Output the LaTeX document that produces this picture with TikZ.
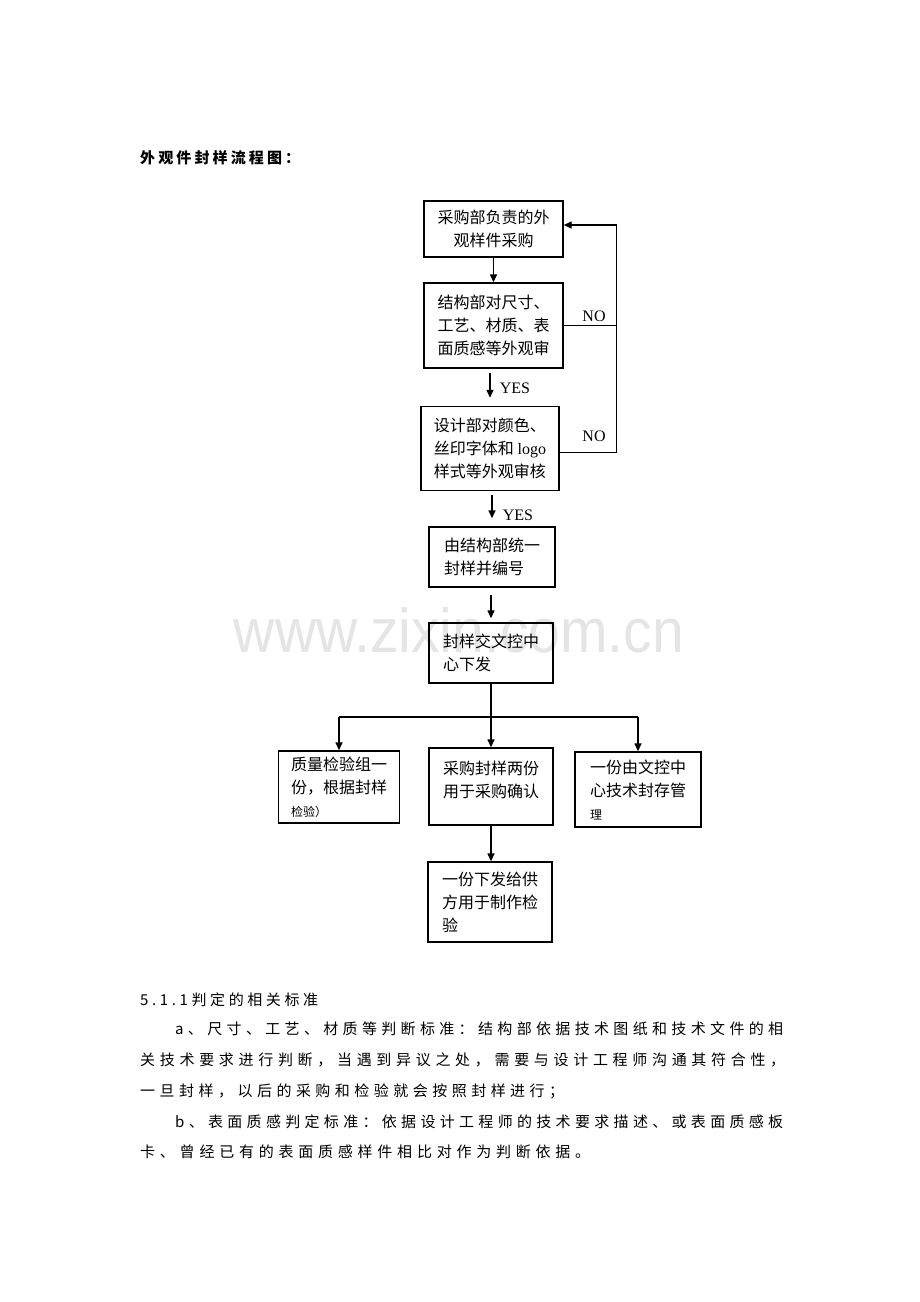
\documentclass[tikz,border=0pt]{standalone}
\usepackage{fontspec}
\usepackage{tikz}
\usetikzlibrary{arrows.meta}
\newfontfamily\cjk{Noto Sans CJK SC}
\newfontfamily\lat{Liberation Serif}
\newfontfamily\wmfont{Liberation Sans}
% spread the characters of one line over a given width
\let\endspread\relax
\def\spreadloop#1{\ifx#1\endspread\else#1\hfil\expandafter\spreadloop\fi}
\newcommand\spreadline[2]{\hbox to #1pt{\spreadloop#2\endspread\unskip}}

\begin{document}
\begin{tikzpicture}[x=1pt,y=-1pt,>={Triangle[length=8pt,width=7pt]}]
	\fill[white] (0,0) rectangle (920,1302);
	\useasboundingbox (0,0) rectangle (920,1302);
	\node[text=black!10, font=\wmfont\fontsize{62}{62}\selectfont, xscale=0.92] (W) at (459,630) {www.zixin.com.cn};
	\node[anchor=west, inner sep=0pt, font=\cjk\bfseries\fontsize{15}{18}\selectfont] (T) at (140,158) {\spreadline{160}{外观件封样流程图：}};
	\begin{scope}[every node/.style = {draw, line width=1.4pt, inner xsep=0pt, inner ysep=3pt,
			font=\cjk\fontsize{16}{23}\selectfont, align=left}]
		\node[minimum width=139pt, minimum height=56pt, align=center] (A) at (493.5,229) {采购部负责的外\\观样件采购};
		\node[minimum width=139pt, minimum height=85pt] (B) at (493.5,325.5) {结构部对尺寸、\\工艺、材质、表\\面质感等外观审};
		\node[minimum width=138pt, minimum height=84pt] (C) at (490,448.5) {设计部对颜色、\\丝印字体和 {\lat logo}\\样式等外观审核};
		\node[minimum width=126pt, minimum height=60pt] (D) at (492,557) {由结构部统一\\封样并编号};
		\node[minimum width=124pt, minimum height=60pt] (E) at (491,653) {封样交文控中\\心下发};
		\node[minimum width=121pt, minimum height=72pt] (F) at (339,787) {质量检验组一\\份，根据封样\\{\fontsize{12}{14}\selectfont 检验）}};
		\node[minimum width=124pt, minimum height=77pt] (G) at (491,786.5) {采购封样两份\\用于采购确认\\[-8pt]};
		\node[minimum width=126pt, minimum height=75pt] (H) at (638,789.5) {一份由文控中\\心技术封存管\\{\fontsize{12}{14}\selectfont 理}};
		\node[minimum width=124pt, minimum height=80pt] (I) at (490,902) {一份下发给供\\方用于制作检\\验};
	\end{scope}
	\coordinate (S) at (491,717);
	\begin{scope}[every node/.style={font=\lat\fontsize{16}{18}\selectfont, inner sep=0pt}]
		\node (N1) at (594,316) {NO};
		\node (N2) at (594,436) {NO};
		\node (Y1) at (515,388) {YES};
		\node (Y2) at (518,515) {YES};
	\end{scope}
	\begin{scope}[line width=1.4pt]
		\draw[->] (A) -- (B);
		\draw[->, shorten <=4pt, shorten >=8pt] (B.south -| C.north) -- (C.north);
		\draw[->, shorten <=4pt, shorten >=8pt] (C.south -| D.north) -- (D.north);
		\draw[->, shorten <=7pt, shorten >=4pt] (D.south -| E.north) -- (E.north);
		\draw[->] ([yshift=-4pt]C.east) -- ++(57,0) coordinate (R) |- ([yshift=4pt]A.east);
		\draw (B.east) -- (B.east -| R);
		\draw (E.south) -- (S);
		\draw (S -| F) -- (S -| H);
		\draw[->] (S -| F) -- (F.north);
		\draw[->] (S) -- (G.north);
		\draw[->] (S -| H) -- (H.north);
		\draw[->] (G.south) -- (G.south |- I.north);
	\end{scope}
	\begin{scope}[every node/.style={anchor=west, inner sep=0pt, font=\cjk\fontsize{15}{18}\selectfont}]
		\node (P0) at (140,1000) {\spreadline{178}{5.1.1判定的相关标准}};
		\node (P1) at (175,1029) {\spreadline{608}{a、尺寸、工艺、材质等判断标准：结构部依据技术图纸和技术文件的相}};
		\node (P2) at (140,1060) {\spreadline{645}{关技术要求进行判断，当遇到异议之处，需要与设计工程师沟通其符合性，}};
		\node (P3) at (140,1091) {\spreadline{424}{一旦封样，以后的采购和检验就会按照封样进行；}};
		\node (P4) at (175,1122) {\spreadline{608}{b、表面质感判定标准：依据设计工程师的技术要求描述、或表面质感板}};
		\node (P5) at (140,1152) {\spreadline{450}{卡、曾经已有的表面质感样件相比对作为判断依据。}};
	\end{scope}
\end{tikzpicture}
\end{document}
